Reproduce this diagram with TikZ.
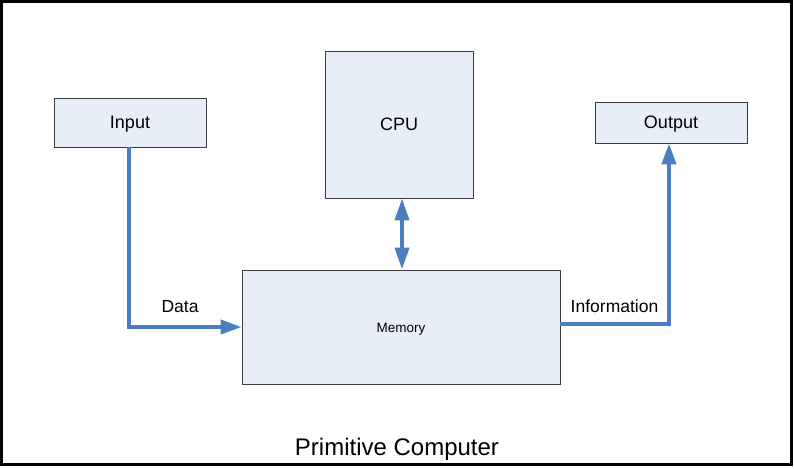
\documentclass[tikz,border=0pt]{standalone}
\usepackage{fontspec}
\setmainfont{Liberation Sans}
\usetikzlibrary{arrows.meta}
\definecolor{boxfill}{RGB}{232,238,248}
\definecolor{boxline}{RGB}{60,60,60}
\definecolor{arrowblue}{RGB}{74,126,190}
\tikzset{
  unitbox/.style={draw=boxline, line width=0.9pt, fill=boxfill, inner sep=0pt,
    text height=0.72em+4pt, text depth=0pt, font=\fontsize{18}{20}\selectfont},
  flow/.style={draw=arrowblue, line width=4pt,
    -{Triangle[length=21pt,width=14pt]}},
  flowtwo/.style={draw=arrowblue, line width=4pt,
    {Triangle[length=22pt,width=14pt]}-{Triangle[length=22pt,width=14pt]}},
  flowlabel/.style={anchor=base, inner sep=0pt, font=\fontsize{17.5}{20}\selectfont},
}
\begin{document}
\begin{tikzpicture}[x=1pt,y=-1pt]
\useasboundingbox (0,0) rectangle (794,468);
\draw[line width=2.7pt, black] (1.4,1.4) rectangle (791.3,464.7);

\node[unitbox, minimum width=152pt, minimum height=49pt] (input) at (130,122.5) {Input};
\node[unitbox, minimum width=148pt, minimum height=147pt] (cpu) at (399,124.5) {CPU};
\node[unitbox, minimum width=152pt, minimum height=41pt] (output) at (671,122.5) {Output};
\node[unitbox, minimum width=318pt, minimum height=114pt, font=\fontsize{13.5}{15}\selectfont] (memory) at (401,327) {Memory};

\draw[flow] ([xshift=-1pt]input.south) |- (memory.west);
\draw[flow] ([yshift=3pt]memory.east) -| ([xshift=-2pt]output.south);
\draw[flowtwo] ([xshift=3pt]cpu.south) -- ([xshift=3pt]cpu.south |- memory.north);

\node[flowlabel] (data) at (180,312) {Data};
\node[flowlabel] (info) at (614.5,312) {Information};
\node[anchor=base, inner sep=0pt, font=\fontsize{24}{28}\selectfont] (title) at (397,455) {Primitive Computer};
\end{tikzpicture}
\end{document}
